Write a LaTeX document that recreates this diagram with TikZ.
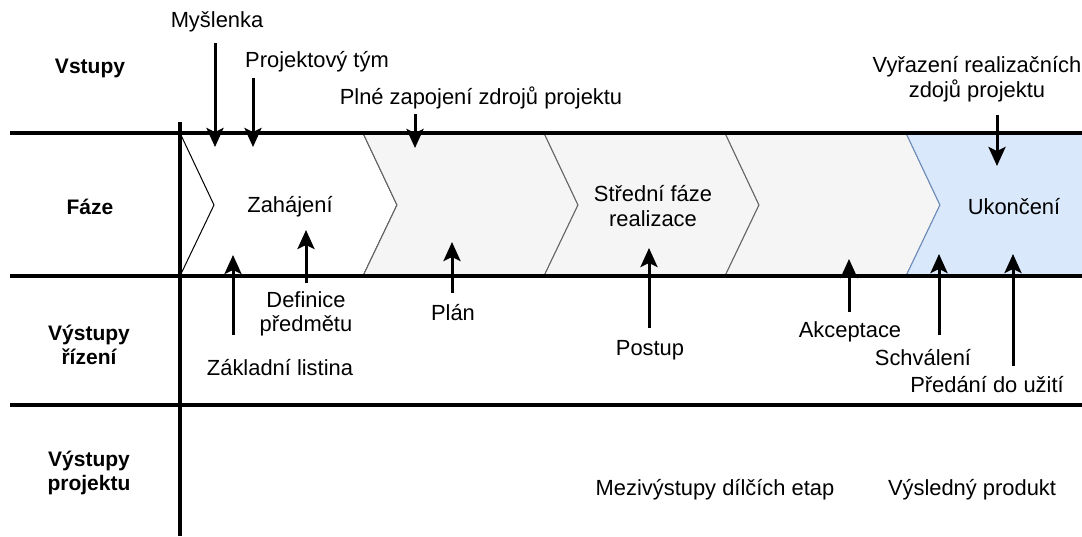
\documentclass[tikz,border=0pt]{standalone}
\usepackage{fontspec}
\setmainfont{Liberation Sans}
\usetikzlibrary{arrows.meta}
\definecolor{phasegray}{HTML}{F5F5F5}
\definecolor{phaseblue}{HTML}{DAE8FC}
\definecolor{blueline}{HTML}{6C8EBF}
\definecolor{grayline}{HTML}{666666}
\begin{document}
\begin{tikzpicture}[x=1pt,y=-1pt,
  lane/.style={line width=4.5pt, black},
  arr/.style={line width=3pt, -{Stealth[length=19pt,width=17pt,inset=4pt]}},
  lbl/.style={font=\fontsize{21.9}{24.5}\selectfont, align=center, inner sep=0pt},
  head/.style={lbl, font=\fontsize{21}{24.5}\selectfont\bfseries},
  chevw/.style={fill=white, draw=black, line width=1pt},
  chevg/.style={fill=phasegray, draw=grayline, line width=1pt},
  chevb/.style={fill=phaseblue, draw=blueline, line width=1pt}]
\useasboundingbox (0,0) rectangle (1082,536);

% phase chevrons
\path[chevw] (180,133) -- (363,133) -- (397,205) -- (363,276) -- (180,276) -- (214,205) -- cycle;
\path[chevg] (363,133) -- (544,133) -- (578,205) -- (544,276) -- (363,276) -- (397,205) -- cycle;
\path[chevg] (544,133) -- (725,133) -- (759,205) -- (725,276) -- (544,276) -- (578,205) -- cycle;
\path[chevg] (725,133) -- (906,133) -- (940,205) -- (906,276) -- (725,276) -- (759,205) -- cycle;
\path[chevb] (906,133) -- (1083,133) -- (1083,276) -- (906,276) -- (940,205) -- cycle;

% swimlane lines
\draw[lane] (10,133) -- (1082,133);
\draw[lane] (10,276) -- (1082,276);
\draw[lane] (10,405) -- (1082,405);
\draw[lane] (180,122) -- (180,536);

% row headers
\node[head] (hvst) at (90,68) {Vstupy};
\node[head] (hfaz) at (90,207) {Fáze};
\node[head] (hriz) at (89,345) {Výstupy\\řízení};
\node[head] (hprj) at (89,473) {Výstupy\\projektu};

% phase names
\node[lbl] (zahaj) at (290,207) {Zahájení};
\node[lbl] (stred) at (653,206) {Střední fáze\\realizace};
\node[lbl] (ukon) at (1014,207) {Ukončení};

% inputs
\node[lbl] (mysl) at (217,22) {Myšlenka};
\node[lbl] (ptym) at (317,62) {Projektový tým};
\node[lbl] (plne) at (481,98) {Plné zapojení zdrojů projektu};
\node[lbl] (vyraz) at (977,79) {Vyřazení realizačních\\zdojů projektu};

% management outputs
\node[lbl] (zakl) at (280,368) {Základní listina};
\node[lbl] (defin) at (306,314) {Definice\\předmětu};
\node[lbl] (plan) at (453,313) {Plán};
\node[lbl] (postup) at (650,350) {Postup};
\node[lbl] (akcept) at (850,332) {Akceptace};
\node[lbl] (schval) at (923,358) {Schválení};
\node[lbl] (predani) at (987,385) {Předání do užití};

% project outputs
\node[lbl] (mezi) at (715,490) {Mezivýstupy dílčích etap};
\node[lbl] (vysl) at (972,490) {Výsledný produkt};

% arrow endpoints
\coordinate (myslS) at (215,43);   \coordinate (myslE) at (215,147);
\coordinate (ptymS) at (253,78);   \coordinate (ptymE) at (253,147);
\coordinate (plneS) at (415,114);  \coordinate (plneE) at (415,148);
\coordinate (vyrazS) at (997,115); \coordinate (vyrazE) at (997,166);
\coordinate (zaklS) at (233,335);  \coordinate (zaklE) at (233,255);
\coordinate (definS) at (306,283); \coordinate (definE) at (306,230);
\coordinate (planS) at (452,293);  \coordinate (planE) at (452,242);
\coordinate (postS) at (649,328);  \coordinate (postE) at (649,248);
\coordinate (akcS) at (849,312);   \coordinate (akcE) at (849,259);
\coordinate (schS) at (939,335);   \coordinate (schE) at (939,254);
\coordinate (predS) at (1013,366); \coordinate (predE) at (1013,254);

\draw[arr] (myslS) -- (myslE);
\draw[arr] (ptymS) -- (ptymE);
\draw[arr] (plneS) -- (plneE);
\draw[arr] (vyrazS) -- (vyrazE);
\draw[arr] (zaklS) -- (zaklE);
\draw[arr] (definS) -- (definE);
\draw[arr] (planS) -- (planE);
\draw[arr] (postS) -- (postE);
\draw[arr] (akcS) -- (akcE);
\draw[arr] (schS) -- (schE);
\draw[arr] (predS) -- (predE);
\end{tikzpicture}
\end{document}
